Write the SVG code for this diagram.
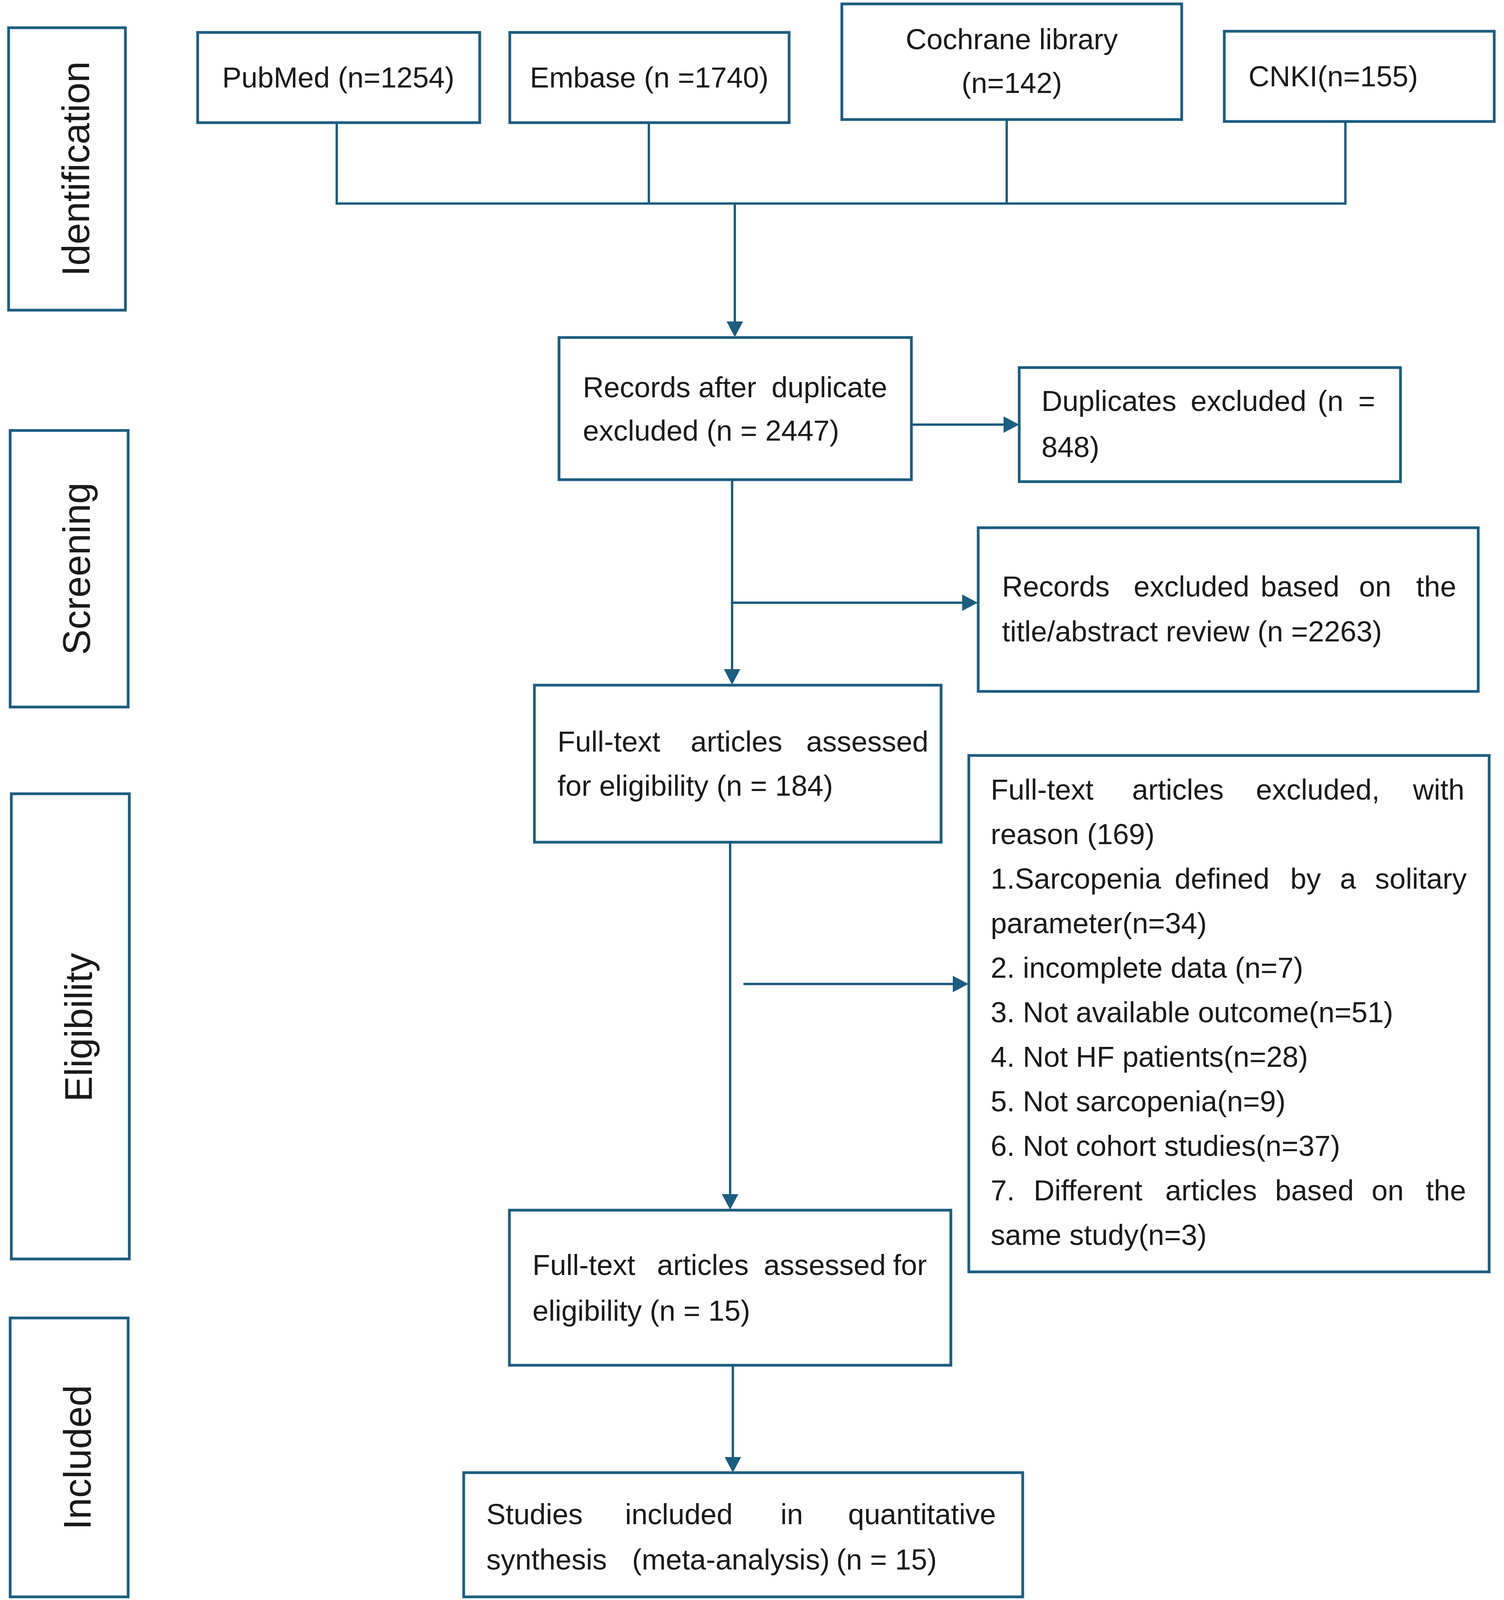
<svg xmlns="http://www.w3.org/2000/svg" width="3850" height="4356" viewBox="0 0 3850 4356">
<style>
.box{fill:#ffffff;stroke:#1c5d80;stroke-width:7}
.ln{fill:none;stroke:#1c5d80;stroke-width:6}
.t{font-family:"Liberation Sans",Arial,sans-serif;font-size:74px;fill:#1a1a1a}
.c{text-anchor:middle}
.side{font-family:"Liberation Sans",Arial,sans-serif;font-size:98px;fill:#1a1a1a;text-anchor:middle}
</style>
<defs>
<marker id="ah" viewBox="0 0 40 42" refX="20" refY="21" markerWidth="40" markerHeight="42" markerUnits="userSpaceOnUse" orient="auto">
<path d="M0,0 L40,21 L0,42 Z" fill="#1c5d80"/>
</marker>
</defs>
<rect width="3850" height="4356" fill="#ffffff"/>

<g id="stage-identification">
<rect class="box" x="22" y="71" width="299" height="723"/>
<text class="side" transform="translate(228,432) rotate(-90)">Identification</text>
</g>
<g id="stage-screening">
<rect class="box" x="26" y="1102" width="302" height="708"/>
<text class="side" transform="translate(230,1456) rotate(-90)">Screening</text>
</g>
<g id="stage-eligibility">
<rect class="box" x="29" y="2032" width="302" height="1191"/>
<text class="side" transform="translate(235,2630) rotate(-90)">Eligibility</text>
</g>
<g id="stage-included">
<rect class="box" x="26" y="3374" width="302" height="714"/>
<text class="side" transform="translate(232,3731) rotate(-90)">Included</text>
</g>

<g id="connectors">
<polyline class="ln" points="862,314 862,521 3444,521 3444,311"/>
<line class="ln" x1="1661" y1="314" x2="1661" y2="521"/>
<line class="ln" x1="2577" y1="306" x2="2577" y2="521"/>
<line class="ln" x1="1881" y1="521" x2="1881" y2="843" marker-end="url(#ah)"/>
<line class="ln" x1="2333" y1="1087" x2="2589" y2="1087" marker-end="url(#ah)"/>
<line class="ln" x1="1874" y1="1228" x2="1874" y2="1733" marker-end="url(#ah)"/>
<line class="ln" x1="1877" y1="1543" x2="2483" y2="1543" marker-end="url(#ah)"/>
<line class="ln" x1="1869" y1="2156" x2="1869" y2="3077" marker-end="url(#ah)"/>
<line class="ln" x1="1903" y1="2519" x2="2459" y2="2519" marker-end="url(#ah)"/>
<line class="ln" x1="1876" y1="3495" x2="1876" y2="3750" marker-end="url(#ah)"/>
</g>

<g id="pubmed">
<rect class="box" x="506" y="83" width="722" height="231"/>
<text class="t c" x="866" y="224">PubMed (n=1254)</text>
</g>
<g id="embase">
<rect class="box" x="1305" y="83" width="715" height="231"/>
<text class="t c" x="1662" y="224">Embase (n =1740)</text>
</g>
<g id="cochrane">
<rect class="box" x="2155" y="10" width="870" height="296"/>
<text class="t c" x="2590" y="126">Cochrane library</text>
<text class="t c" x="2590" y="238">(n=142)</text>
</g>
<g id="cnki">
<rect class="box" x="3134" y="80" width="691" height="231"/>
<text class="t" x="3196" y="221">CNKI(n=155)</text>
</g>

<g id="records-after-duplicates">
<rect class="box" x="1431" y="864" width="902" height="364"/>
<text class="t" y="1017"><tspan x="1492">Records</tspan><tspan x="1788">after</tspan><tspan x="1975">duplicate</tspan></text>
<text class="t" x="1492" y="1128">excluded (n = 2447)</text>
</g>
<g id="duplicates-excluded">
<rect class="box" x="2609" y="941" width="976" height="292"/>
<text class="t" y="1052"><tspan x="2666">Duplicates</tspan><tspan x="3048">excluded</tspan><tspan x="3373">(n</tspan><tspan x="3477">=</tspan></text>
<text class="t" x="2666" y="1170">848)</text>
</g>
<g id="records-excluded">
<rect class="box" x="2504" y="1351" width="1280" height="419"/>
<text class="t" y="1527"><tspan x="2565">Records</tspan><tspan x="2902">excluded</tspan><tspan x="3227">based</tspan><tspan x="3479">on</tspan><tspan x="3625">the</tspan></text>
<text class="t" x="2565" y="1642">title/abstract review (n =2263)</text>
</g>
<g id="fulltext-assessed-184">
<rect class="box" x="1368" y="1754" width="1041" height="402"/>
<text class="t" y="1924"><tspan x="1427">Full-text</tspan><tspan x="1768">articles</tspan><tspan x="2064">assessed</tspan></text>
<text class="t" x="1427" y="2037">for eligibility (n = 184)</text>
</g>
<g id="fulltext-excluded">
<rect class="box" x="2480" y="1934" width="1332" height="1322"/>
<text class="t" y="2047"><tspan x="2536">Full-text</tspan><tspan x="2898">articles</tspan><tspan x="3215">excluded,</tspan><tspan x="3617">with</tspan></text>
<text class="t" x="2536" y="2161">reason (169)</text>
<text class="t" y="2275"><tspan x="2536">1.Sarcopenia</tspan><tspan x="3007">defined</tspan><tspan x="3303">by</tspan><tspan x="3430">a</tspan><tspan x="3520">solitary</tspan></text>
<text class="t" x="2536" y="2389">parameter(n=34)</text>
<text class="t" x="2536" y="2503">2. incomplete data (n=7)</text>
<text class="t" x="2536" y="2617">3. Not available outcome(n=51)</text>
<text class="t" x="2536" y="2731">4. Not HF patients(n=28)</text>
<text class="t" x="2536" y="2845">5. Not sarcopenia(n=9)</text>
<text class="t" x="2536" y="2959">6. Not cohort studies(n=37)</text>
<text class="t" y="3073"><tspan x="2536">7.</tspan><tspan x="2646">Different</tspan><tspan x="2983">articles</tspan><tspan x="3264">based</tspan><tspan x="3511">on</tspan><tspan x="3650">the</tspan></text>
<text class="t" x="2536" y="3187">same study(n=3)</text>
</g>
<g id="fulltext-assessed-15">
<rect class="box" x="1304" y="3098" width="1130" height="397"/>
<text class="t" y="3264"><tspan x="1363">Full-text</tspan><tspan x="1682">articles</tspan><tspan x="1955">assessed</tspan><tspan x="2286">for</tspan></text>
<text class="t" x="1363" y="3381">eligibility (n = 15)</text>
</g>
<g id="studies-included">
<rect class="box" x="1187" y="3770" width="1431" height="318"/>
<text class="t" y="3902"><tspan x="1245">Studies</tspan><tspan x="1600">included</tspan><tspan x="1998">in</tspan><tspan x="2171">quantitative</tspan></text>
<text class="t" y="4018"><tspan x="1245">synthesis</tspan><tspan x="1618">(meta-analysis)</tspan><tspan x="2141">(n = 15)</tspan></text>
</g>
</svg>
